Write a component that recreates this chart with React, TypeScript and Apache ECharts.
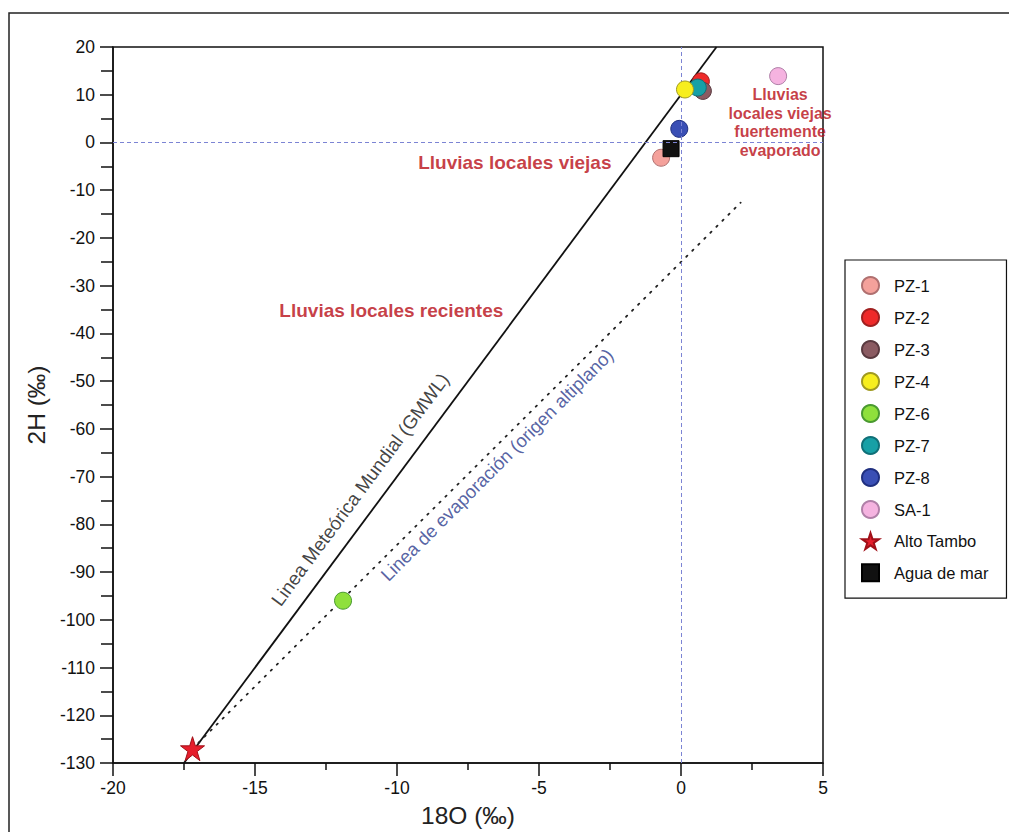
import React, { useEffect, useRef } from "react";
import * as echarts from "echarts";

// ---- data ----
const sampleNames = ["PZ-1", "PZ-2", "PZ-3", "PZ-4", "PZ-6", "PZ-7", "PZ-8", "SA-1", "Alto Tambo", "Agua de mar"];
const d18O = [-0.7, 0.7, 0.77, 0.14, -11.9, 0.59, -0.06, 3.42, -17.2, -0.35];
const d2H = [-3.2, 12.8, 10.8, 11.1, -96, 11.5, 2.85, 13.9, -127, -1.3];
const sampleColors = ["#f4a19b", "#ee2a2a", "#8b5b62", "#f7ee1e", "#8fe03c", "#17a0a6", "#3a4fb5", "#f5b3e0", "#e61e2c", "#111111"];
const sampleBorders = ["#b07070", "#a02020", "#5a3a40", "#a09a20", "#4a9a30", "#107078", "#203080", "#b080a8", "#a01018", "#000000"];
const sampleZ = [3, 3, 4, 6, 3, 5, 3, 3, 3, 3];

const gmwlLine = [[-17.5, -130], [1.25, 20]];
const evapLine = [[-17.2, -127], [2.1, -12.6]];

const xMin = -20, xMax = 5, xStep = 5;
const yMin = -130, yMax = 20, yStep = 10;

const annotations = [
  { text: "Lluvias locales viejas", x: -5.85, y: -4.2, rotate: 0, color: "#b80c16", size: 19, bold: true },
  { text: "Lluvias locales recientes", x: -10.2, y: -35.2, rotate: 0, color: "#b80c16", size: 19, bold: true },
  { text: "Lluvias\nlocales viejas\nfuertemente\nevaporado", x: 3.49, y: 4.2, rotate: 0, color: "#b80c16", size: 16, bold: true },
  { text: "Linea Meteórica Mundial (GMWL)", x: -11.3, y: -72.7, rotate: 53.4, color: "#111111", size: 19, bold: false },
  { text: "Linea de evaporación (origen altiplano)", x: -6.48, y: -67.5, rotate: 45, color: "#2b3a8c", size: 18.5, bold: false },
];

const STAR = "path://M50,0 L61.2,34.5 L97.6,34.5 L68.2,55.9 L79.4,90.5 L50,69.1 L20.6,90.5 L31.8,55.9 L2.4,34.5 L38.8,34.5 Z";
const symbols = ["circle", "circle", "circle", "circle", "circle", "circle", "circle", "circle", STAR, "rect"];
const symbolSizes = [17, 17, 17, 17, 17, 17, 17, 17, 24, 16];

const FONT = "'Liberation Sans', Arial, sans-serif";

export default function App() {
  const ref = useRef<HTMLDivElement>(null);
  useEffect(() => {
    document.body.style.margin = "0";
    document.body.style.overflow = "hidden";
    const chart = echarts.init(ref.current!, undefined, { renderer: "svg" });

    const pointSeries = sampleNames.map((name, i) => ({
      name,
      type: "scatter",
      data: [[d18O[i], d2H[i]]],
      symbol: symbols[i],
      symbolSize: symbolSizes[i],
      z: sampleZ[i],
      itemStyle: {
        color: sampleColors[i],
        borderColor: sampleBorders[i],
        borderWidth: 1,
        opacity: 1,
      },
      silent: true,
    }));

    const option: any = {
      animation: false,
      backgroundColor: "#ffffff",
      textStyle: { fontFamily: FONT },
      grid: {
        left: 113,
        top: 47,
        right: 186,
        bottom: 69,
        containLabel: false,
        outerBoundsMode: "none",
        show: true,
        borderColor: "#111",
        borderWidth: 1.5,
        backgroundColor: "transparent",
      },
      xAxis: {
        type: "value",
        min: xMin,
        max: xMax,
        interval: xStep,
        name: "18O (‰)",
        nameLocation: "middle",
        nameGap: 40,
        nameTextStyle: { fontSize: 24.5, color: "#222", fontFamily: FONT },
        axisLine: { show: true, onZero: false, lineStyle: { color: "#111", width: 1.5 } },
        axisTick: { show: true, inside: false, length: 13, lineStyle: { color: "#111", width: 1.5 } },
        minorTick: { show: true, splitNumber: 2, length: 7, lineStyle: { color: "#111", width: 1.5 } },
        splitLine: { show: false },
        axisLabel: { fontSize: 17.5, color: "#111", margin: 16, fontFamily: FONT },
      },
      yAxis: {
        type: "value",
        min: yMin,
        max: yMax,
        interval: yStep,
        name: "2H (‰)",
        nameLocation: "middle",
        nameGap: 55,
        nameTextStyle: { fontSize: 24.5, color: "#222", fontFamily: FONT },
        axisLine: { show: true, onZero: false, lineStyle: { color: "#111", width: 1.5 } },
        axisTick: { show: true, inside: false, length: 13, lineStyle: { color: "#111", width: 1.5 } },
        minorTick: { show: true, splitNumber: 2, length: 12, lineStyle: { color: "#111", width: 1.5 } },
        splitLine: { show: false },
        axisLabel: { fontSize: 17.5, color: "#111", margin: 18, fontFamily: FONT },
      },
      legend: {
        orient: "vertical",
        left: 845,
        top: 260,
        padding: [16, 18, 16, 16],
        itemGap: 13,
        itemWidth: 17,
        itemHeight: 17,
        borderColor: "#111",
        borderWidth: 1.2,
        backgroundColor: "#fff",
        selectedMode: false,
        textStyle: { fontSize: 16.5, color: "#111", fontFamily: FONT, padding: [0, 0, 0, 10] },
        data: sampleNames.map((n, i) => ({ name: n, icon: symbols[i] })),
      },
      graphic: [
        {
          type: "rect",
          shape: { x: 9, y: 13, width: 1100, height: 900 },
          style: { fill: "none", stroke: "#222", lineWidth: 1.5 },
          silent: true,
          z: 0,
        },
      ],
      series: [
        {
          name: "refs",
          type: "line",
          data: [],
          silent: true,
          markLine: {
            silent: true,
            symbol: ["none", "none"],
            label: { show: false },
            lineStyle: { color: "#7c84d4", type: [4, 3], width: 1 },
            emphasis: { disabled: true },
            data: [{ xAxis: 0 }, { yAxis: 0 }],
          },
        },
        {
          name: "GMWL",
          type: "line",
          data: gmwlLine,
          symbol: "none",
          silent: true,
          z: 2,
          lineStyle: { color: "#111", width: 1.8 },
        },
        {
          name: "Evap",
          type: "line",
          data: evapLine,
          symbol: "none",
          silent: true,
          z: 2,
          lineStyle: { color: "#222", width: 1.8, type: [1.5, 7], cap: "round" },
        },
        ...pointSeries,
        {
          name: "labels",
          type: "scatter",
          symbolSize: 0,
          silent: true,
          z: 7,
          itemStyle: { color: "rgba(0,0,0,0)" },
          data: annotations.map((a) => ({
            value: [a.x, a.y],
            label: {
              show: true,
              position: "inside",
              formatter: a.text,
              rotate: a.rotate,
              color: a.color,
              fontSize: a.size,
              fontWeight: a.bold ? "bold" : "normal",
              fontFamily: FONT,
              align: "center",
              verticalAlign: "middle",
              lineHeight: a.size * 1.15,
            },
          })),
        },
      ],
    };
    chart.setOption(option);
    return () => chart.dispose();
  }, []);
  return <div ref={ref} style={{ width: 1009, height: 832 }} />;
}
